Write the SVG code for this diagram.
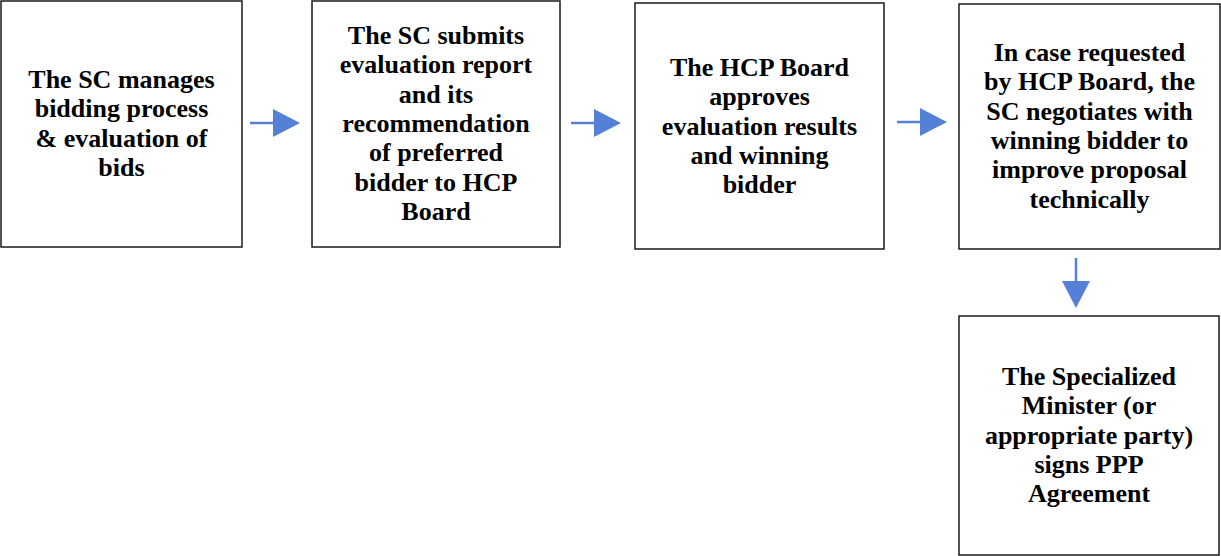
<svg xmlns="http://www.w3.org/2000/svg" width="1221" height="556" viewBox="0 0 1221 556">
<style>
.box{fill:#fff;stroke:#1a1a1a;stroke-width:1.5}
.t{font-family:"Liberation Serif",serif;font-weight:bold;font-size:26px;fill:#000;text-anchor:middle}
.ln{stroke:#5580d8;stroke-width:2.5;fill:none}
.hd{fill:#5580d8}
</style>
<rect width="1221" height="556" fill="#fff"/>
<g id="n1"><rect class="box" x="1" y="1" width="241" height="246"/>
<text class="t"><tspan x="121.5" y="88">The SC manages</tspan><tspan x="121.5" y="117.3">bidding process</tspan><tspan x="121.5" y="146.6">&amp; evaluation of</tspan><tspan x="121.5" y="176">bids</tspan></text></g>
<g id="n2"><rect class="box" x="312" y="1" width="248" height="246"/>
<text class="t"><tspan x="436" y="44">The SC submits</tspan><tspan x="436" y="73.3">evaluation report</tspan><tspan x="436" y="102.6">and its</tspan><tspan x="436" y="132">recommendation</tspan><tspan x="436" y="161.3">of preferred</tspan><tspan x="436" y="190.6">bidder to HCP</tspan><tspan x="436" y="220">Board</tspan></text></g>
<g id="n3"><rect class="box" x="635" y="3" width="249" height="246"/>
<text class="t"><tspan x="759.5" y="76">The HCP Board</tspan><tspan x="759.5" y="105.3">approves</tspan><tspan x="759.5" y="134.6">evaluation results</tspan><tspan x="759.5" y="164">and winning</tspan><tspan x="759.5" y="193.3">bidder</tspan></text></g>
<g id="n4"><rect class="box" x="959" y="4" width="261" height="245"/>
<text class="t"><tspan x="1089.5" y="61">In case requested</tspan><tspan x="1089.5" y="90.4">by HCP Board, the</tspan><tspan x="1089.5" y="119.7">SC negotiates with</tspan><tspan x="1089.5" y="149">winning bidder to</tspan><tspan x="1089.5" y="178.4">improve proposal</tspan><tspan x="1089.5" y="207.7">technically</tspan></text></g>
<g id="n5"><rect class="box" x="959" y="316" width="260" height="239"/>
<text class="t"><tspan x="1089" y="385">The Specialized</tspan><tspan x="1089" y="414.3">Minister (or</tspan><tspan x="1089" y="443.6">appropriate party)</tspan><tspan x="1089" y="473">signs PPP</tspan><tspan x="1089" y="502.3">Agreement</tspan></text></g>
<g id="connectors">
<line class="ln" x1="250" y1="123" x2="274" y2="123"/><polygon class="hd" points="273,109 300,123 273,137"/>
<line class="ln" x1="571" y1="123" x2="595" y2="123"/><polygon class="hd" points="594,109 621,123 594,137"/>
<line class="ln" x1="897" y1="122" x2="921" y2="122"/><polygon class="hd" points="920,108 947,122 920,136"/>
<line class="ln" x1="1076" y1="258" x2="1076" y2="282"/><polygon class="hd" points="1062,281 1090,281 1076,308"/>
</g>
</svg>
